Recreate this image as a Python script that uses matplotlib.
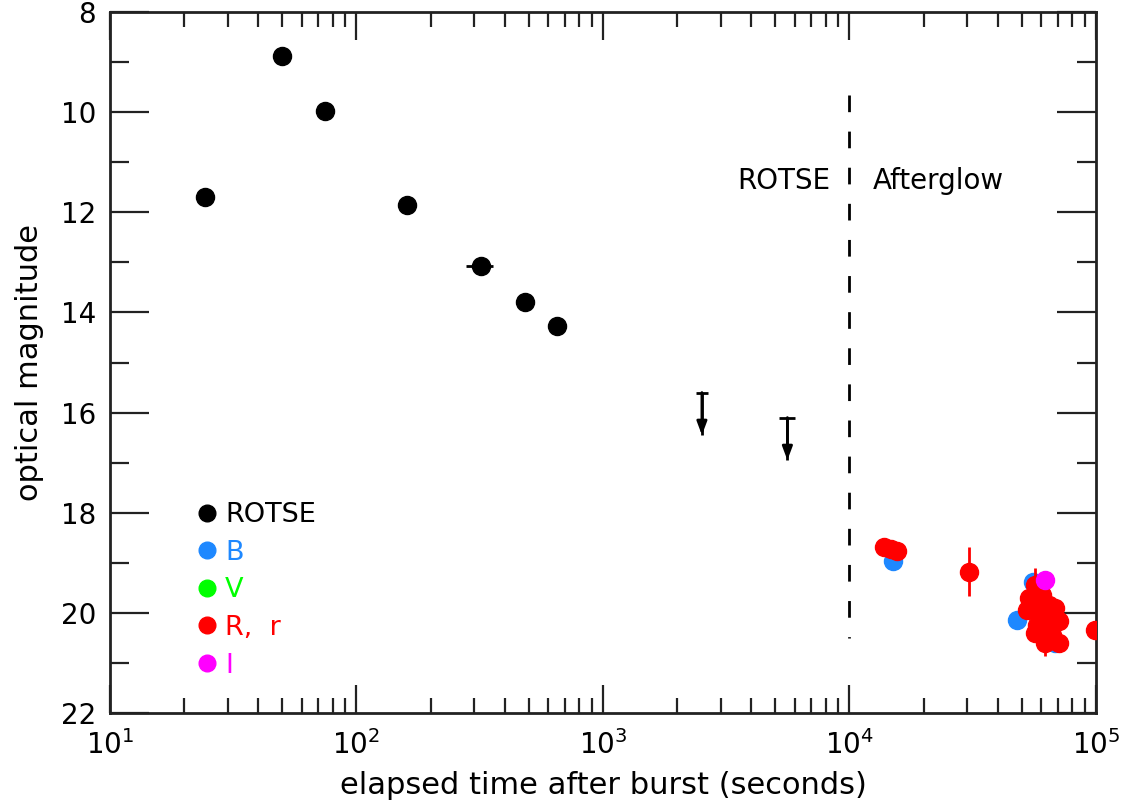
import matplotlib
matplotlib.use("Agg")
import matplotlib.pyplot as plt
from matplotlib.lines import Line2D
from matplotlib.ticker import FixedLocator, LogLocator, NullFormatter

plt.rcParams['font.family'] = ['DejaVu Sans']
plt.rcParams['mathtext.default'] = 'regular'

# ROTSE early-time points (seconds, magnitude, time error)
rotse_t = [24.3, 50.0, 74.8, 160.0, 319.0, 482.0, 650.0]
rotse_mag = [11.69, 8.88, 9.97, 11.86, 13.08, 13.80, 14.27]
rotse_terr = [2.0, 2.5, 0.0, 0.0, 40.0, 0.0, 0.0]

# ROTSE upper limits (cap at top, arrow pointing fainter)
lim_t = [2520.0, 5600.0]
lim_top = [15.6, 16.1]
lim_bottom = [16.45, 16.95]

# afterglow photometry
b_t = [14960.0, 47700.0, 55500.0, 68100.0]
b_mag = [18.96, 20.15, 19.38, 20.61]

v_t = [63000.0]
v_mag = [19.89]

r_t = [13870.0, 14700.0, 15520.0, 30500.0, 56500.0, 53500.0, 52500.0,
       60300.0, 68100.0, 70700.0, 58600.0, 60300.0, 66200.0, 56500.0,
       62000.0, 70700.0, 64400.0, 55000.0, 61000.0, 57500.0, 99000.0]
r_mag = [18.68, 18.72, 18.76, 19.18, 19.45, 19.71, 19.95,
         19.65, 19.91, 20.17, 20.05, 20.31, 20.45, 20.41,
         20.61, 20.61, 19.85, 19.85, 20.15, 20.25, 20.35]
r_err = [0.0, 0.0, 0.0, 0.49, 0.35, 0.0, 0.0,
         0.0, 0.0, 0.0, 0.0, 0.35, 0.3, 0.0,
         0.25, 0.0, 0.0, 0.0, 0.0, 0.0, 0.0]

i_t = [62000.0]
i_mag = [19.35]

legend_labels = ['ROTSE', 'B', 'V', 'R,  r', 'I']

blue = '#1E88FF'
green = '#00FF00'
red = '#FF0000'
magenta = '#FF00FF'
legend_colors = ['black', blue, green, red, magenta]

fig = plt.figure(figsize=(11.28, 8.08), dpi=100)
ax = fig.add_axes([0.0975, 0.1176, 0.8741, 0.8675])

ms = 13
ax.errorbar(rotse_t, rotse_mag, xerr=rotse_terr, fmt='o', color='black',
            ms=ms, elinewidth=2, capsize=0, zorder=3)

# upper limits
ax.vlines(lim_t, lim_top, lim_bottom, color='black', lw=2)
ax.plot(lim_t[:1], lim_top[:1], marker='_', ms=8, mew=2, color='black', ls='none')
ax.plot(lim_t[1:], lim_top[1:], marker='_', ms=12, mew=2, color='black', ls='none')
for t, top, bot in zip(lim_t, lim_top, lim_bottom):
    ax.annotate('', xy=(t, bot), xytext=(t, top),
                arrowprops=dict(arrowstyle='-|>,head_length=0.8,head_width=0.3',
                                color='black', lw=2, shrinkA=0, shrinkB=0))

ax.plot(v_t, v_mag, 'o', color=green, ms=ms, zorder=2)
ax.plot(b_t, b_mag, 'o', color=blue, ms=ms, zorder=2)
ax.errorbar(r_t, r_mag, yerr=r_err, fmt='o', color=red, ms=ms,
            elinewidth=2, capsize=0, zorder=3)
ax.plot(i_t, i_mag, 'o', color=magenta, ms=ms, zorder=4)

# ROTSE / afterglow boundary
ax.vlines([1e4], [9.65], [20.5], color='black', lw=2, linestyles=(0, (6, 7)))
ax.text(8.4e3, 11.37, 'ROTSE', ha='right', va='center', fontsize=20)
ax.text(1.24e4, 11.37, 'Afterglow', ha='left', va='center', fontsize=20)

ax.set_xscale('log')
ax.set_xlim(10, 1e5)
ax.set_ylim(22, 8)

ax.xaxis.set_major_locator(FixedLocator([10, 100, 1000, 1e4, 1e5]))
ax.set_xticklabels(['$10^{1}$', '$10^{2}$', '$10^{3}$', '$10^{4}$', '$10^{5}$'])
ax.xaxis.set_minor_locator(LogLocator(base=10, subs=range(2, 10)))
ax.xaxis.set_minor_formatter(NullFormatter())
ax.yaxis.set_major_locator(FixedLocator([8, 10, 12, 14, 16, 18, 20, 22]))
ax.yaxis.set_minor_locator(FixedLocator([9, 11, 13, 15, 17, 19, 21]))

ax.tick_params(axis='both', which='both', direction='in', top=True, right=True,
               width=1.6, labelsize=20, color='#222222')
ax.tick_params(axis='x', which='major', length=20, pad=12)
ax.tick_params(axis='x', which='minor', length=11)
ax.tick_params(axis='y', which='major', length=28, pad=10)
ax.tick_params(axis='y', which='minor', length=14)
for sp in ax.spines.values():
    sp.set_linewidth(2)
    sp.set_color('#222222')

ax.set_xlabel('elapsed time after burst (seconds)', fontsize=22, labelpad=8)
ax.set_ylabel('optical magnitude', fontsize=22, labelpad=12)

handles = [Line2D([], [], marker='o', ls='none', color=c, ms=12)
           for c in legend_colors]
leg = ax.legend(handles, legend_labels, loc='upper left',
                bbox_to_anchor=(0.090, 0.301), frameon=False, fontsize=19.5,
                handlelength=0.6, handletextpad=0.37, labelspacing=0.43,
                borderpad=0, borderaxespad=0)
for txt, c in zip(leg.get_texts(), legend_colors):
    txt.set_color(c)

fig.savefig('out.png', dpi=100)
